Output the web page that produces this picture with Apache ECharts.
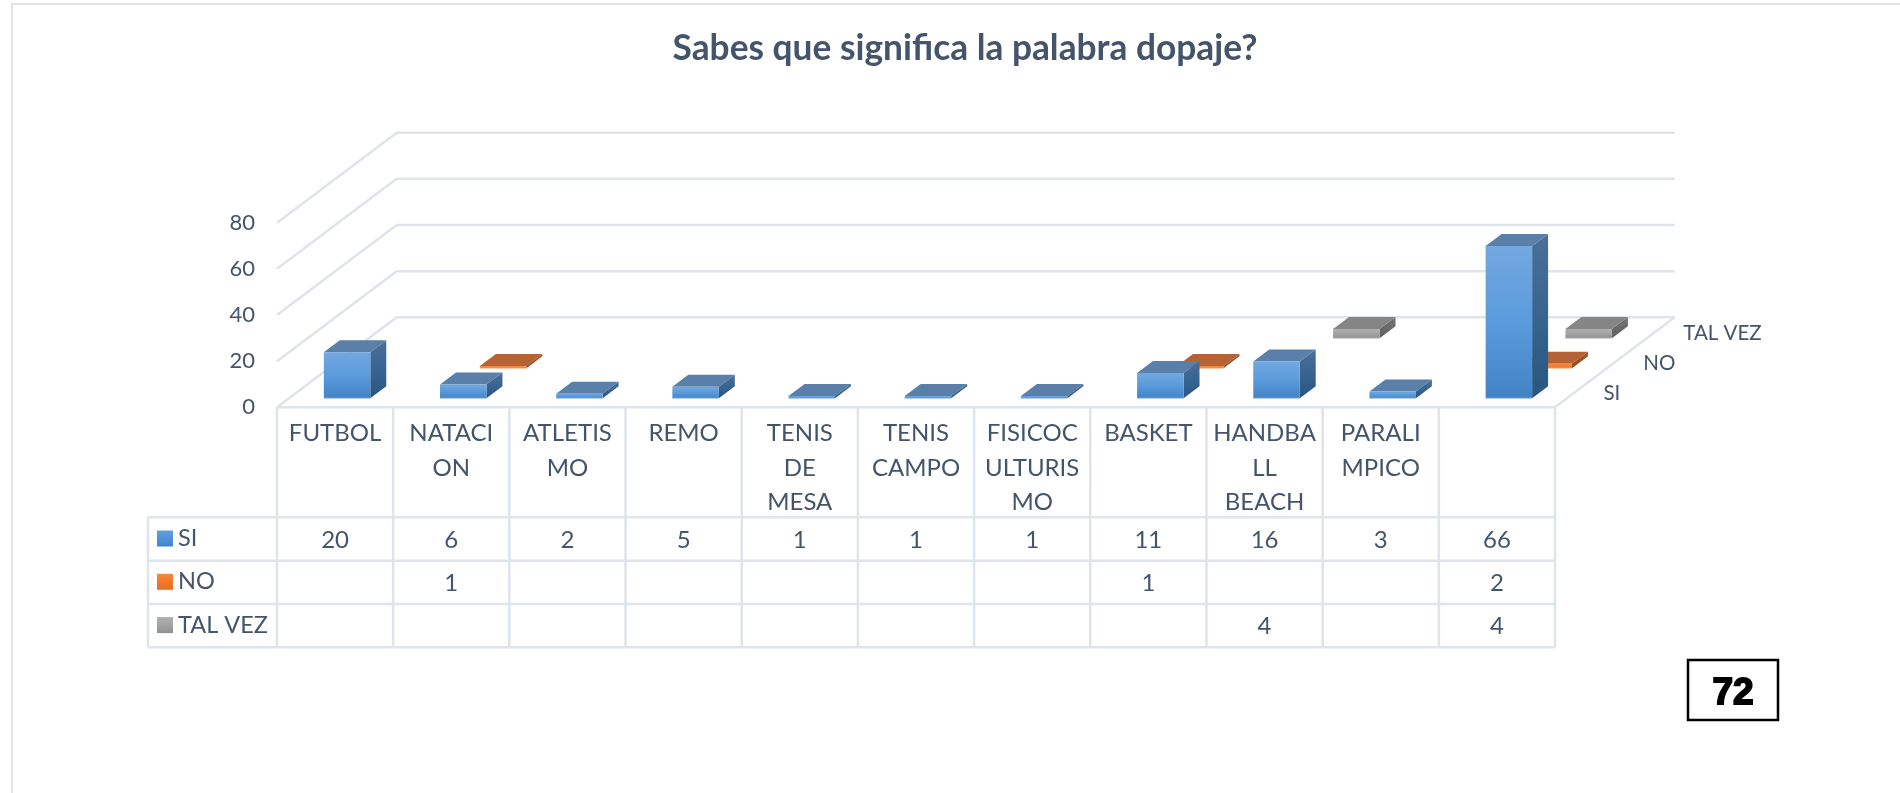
<!DOCTYPE html>
<html>
<head>
<meta charset="utf-8">
<style>html,body{margin:0;padding:0;background:#fff}#c{width:1900px;height:793px}</style>
<script src="https://cdn.jsdelivr.net/npm/echarts@6/dist/echarts.min.js"></script>
</head>
<body>
<div id="c"></div>
<script>
// ---- data ----
const categories = ['FUTBOL','NATACI\nON','ATLETIS\nMO','REMO','TENIS\nDE\nMESA','TENIS\nCAMPO','FISICOC\nULTURIS\nMO','BASKET','HANDBA\nLL\nBEACH','PARALI\nMPICO',''];
const si      = [20,6,2,5,1,1,1,11,16,3,66];
const no      = [null,1,null,null,null,null,null,1,null,null,2];
const talVez  = [null,null,null,null,null,null,null,null,4,null,4];
const seriesNames = ['SI','NO','TAL VEZ'];
const yTicks = [0,20,40,60,80];

// ---- projection and style ----
const TEXT = '#44546A', LINE = '#DFE3EA', FONT = 'Lato, "Noto Sans", sans-serif';
const SLOT_DX = 39.9, SLOT_DY = 30;       // screen shift per depth slot
const BAR_W = 0.4, BAR_DEPTH = 0.4;       // share of band / of slot
const ROW_Y = [110, 153.4, 196.7, 240];   // table rule offsets below the floor's front edge
const ROW_LEFT = 129;                     // header column width
const FS = 24;
const grad = (a, b, c) => ({type:'linear',x:0,y:0,x2:0,y2:1,colorStops:[{offset:0,color:a},{offset:.5,color:b||a},{offset:1,color:c||b||a}]});
const looks = [
  {front:grad('#73A8E0','#5A9BDC','#4283C6'), top:'#5A7FA9', side:grad('#4B6F98','#386491','#27567F'), edge:'#A9CBEB', key:grad('#5FA0DE','#4F93D6','#4085C8')},
  {front:grad('#F58A3F','#F57D2E','#F0742A'), top:'#B56335', side:grad('#A85A2C','#9A4F24','#8E4A1F'), edge:'#F9C9A6', key:grad('#F58A3F','#F0782A','#E56F22')},
  {front:grad('#AFAFAF','#A3A3A3','#8F8F8F'), top:'#858585', side:grad('#757575','#6A6A6A','#5E5E5E'), edge:'#CFCFCF', key:grad('#B0B0B0','#A3A3A3','#909090')}
];

function poly(points, fill, z2){ return {type:'polygon', z2:z2||0, shape:{points}, style:{fill}}; }
function line(points, w){ return {type:'polyline', shape:{points}, style:{stroke:LINE, lineWidth:w||2.5, fill:'none'}}; }
function barRows(arr, depth){
  return arr.map((v,i)=> v==null ? null : [i, v, depth]).filter(Boolean);
}

function renderBar(params, api){
  const depth = api.value(2), look = looks[depth];
  const band = api.size([1,0])[0];
  const base = api.coord([api.value(0),0]), head = api.coord([api.value(0),api.value(1)]);
  const w = band*BAR_W, d = BAR_DEPTH;
  const sx = (depth + (1-d)/2)*SLOT_DX, sy = (depth + (1-d)/2)*SLOT_DY;
  const x0 = base[0]-w/2+sx, x1 = x0+w, yB = base[1]-sy, yT = head[1]-sy;
  const ox = d*SLOT_DX, oy = d*SLOT_DY;
  return {type:'group', children:[
    poly([[x0,yT],[x1,yT],[x1+ox,yT-oy],[x0+ox,yT-oy]], look.top),
    poly([[x1,yT],[x1+ox,yT-oy],[x1+ox,yB-oy],[x1,yB]], look.side),
    {type:'rect', shape:{x:x0,y:yT,width:w,height:yB-yT}, style:{fill:look.front}},
    {type:'line', shape:{x1:x0,y1:yB,x2:x1,y2:yB}, style:{stroke:look.edge,lineWidth:1}}
  ]};
}

function renderWall(params, api){
  const band = api.size([1,0])[0];
  const p0 = api.coord([0, api.value(0)]);
  const left = p0[0]-band/2, y = p0[1];
  const right = api.coord([categories.length-1, 0])[0]+band/2;
  const DX = SLOT_DX*3, DY = SLOT_DY*3;
  const kids = [line([[left,y],[left+DX,y-DY],[right+DX,y-DY]])];
  if (api.value(0)===0) kids.push(line([[left,y],[right,y],[right+DX,y-DY]]));
  return {type:'group', children:kids};
}

function renderTableGrid(params, api){
  const i = api.value(0), band = api.size([1,0])[0];
  const p = api.coord([i,0]);
  const l = p[0]-band/2, r = p[0]+band/2, y0 = p[1];
  const kids = [line([[r,y0],[r,y0+ROW_Y[3]]])];
  if (i===0){
    kids.push(line([[l,y0],[l,y0+ROW_Y[3]]]));
    kids.push(line([[l-ROW_LEFT,y0+ROW_Y[0]],[l-ROW_LEFT,y0+ROW_Y[3]]]));
    ROW_Y.forEach(o=>kids.push(line([[l-ROW_LEFT,y0+o],[r,y0+o]])));
  } else {
    ROW_Y.forEach(o=>kids.push(line([[l,y0+o],[r,y0+o]])));
  }
  return {type:'group', children:kids};
}

function renderCell(params, api){
  const p = api.coord([api.value(0),0]), row = api.value(2);
  return {type:'text', style:{text:String(api.value(1)), x:p[0], y:p[1]+(ROW_Y[row]+ROW_Y[row+1])/2+1,
    fill:TEXT, font:FS+'px '+FONT, align:'center', verticalAlign:'middle'}};
}

function renderDepthLabel(params, api){
  const i = api.value(0), band = api.size([1,0])[0];
  const o = api.coord([categories.length-1,0]);
  const fx = o[0]+band/2, t = seriesNames[i];
  return {type:'text', style:{text:t, x:fx+(i+.5)*SLOT_DX+28.5, y:o[1]-(i+.5)*SLOT_DY+1,
    fill:TEXT, font:'20.5px '+FONT, align:'left', verticalAlign:'middle'}};
}

const cellRows = [si,no,talVez].flatMap((arr,r)=>barRows(arr,r).map(d=>[d[0],d[1],r]));

const chart = echarts.init(document.getElementById('c'), null, {renderer:'canvas'});
chart.setOption({
  animation:false,
  backgroundColor:'#fff',
  title:{text:'Sabes que significa la palabra dopaje?', left:960, top:26, textAlign:'center',
    textStyle:{color:TEXT, fontFamily:FONT, fontWeight:'bold', fontSize:35.3}},
  grid:{left:277, right:345, top:222.7, height:184.6},
  legend:{data:seriesNames.map((n,i)=>({name:n,itemStyle:{color:looks[i].key}})), selectedMode:false, orient:'vertical',
    left:157, top:525, padding:0, icon:'rect', itemWidth:16, itemHeight:16, itemGap:16.3,
    textStyle:{color:TEXT, fontFamily:FONT, fontSize:FS-0.5, lineHeight:27}},
  xAxis:{type:'category', data:categories, axisLine:{show:false}, axisTick:{show:false}, splitLine:{show:false},
    axisLabel:{interval:0, color:TEXT, fontFamily:FONT, fontSize:FS, lineHeight:34.5, margin:9, verticalAlign:'top'}},
  yAxis:{type:'value', min:0, max:80, interval:20, axisLine:{show:false}, axisTick:{show:false}, splitLine:{show:false},
    axisLabel:{color:TEXT, fontFamily:FONT, fontSize:22, margin:22}},
  graphic:[
    {type:'line', shape:{x1:12,y1:3,x2:12,y2:793}, style:{stroke:'#E0E5E9',lineWidth:2}},
    {type:'line', shape:{x1:11,y1:4,x2:1900,y2:4}, style:{stroke:'#E0E5E9',lineWidth:2}},
    {type:'rect', shape:{x:1688,y:660,width:90,height:60}, style:{fill:'#fff',stroke:'#000',lineWidth:2.5}},
    {type:'text', style:{text:'72', x:1733, y:694, fill:'#000', stroke:'#000', lineWidth:1.8,
      font:'bold 37px "Liberation Sans", sans-serif', align:'center', verticalAlign:'middle'}}
  ],
  series:[
    {type:'custom', name:'walls', silent:true, z:1, clip:false, renderItem:renderWall, encode:{y:0}, data:yTicks.map(v=>[v])},
    {type:'custom', name:'table', silent:true, z:1, clip:false, renderItem:renderTableGrid, encode:{x:0}, data:categories.map((c,i)=>[i])},
    {type:'custom', name:'cells', silent:true, z:2, clip:false, renderItem:renderCell, encode:{x:0}, data:cellRows},
    {type:'custom', name:'depth', silent:true, z:2, clip:false, renderItem:renderDepthLabel, data:seriesNames.map((n,i)=>[i])},
    {type:'custom', name:'TAL VEZ', z:3, clip:false, renderItem:renderBar, encode:{x:0,y:1}, itemStyle:{color:'#A5A5A5'}, data:barRows(talVez,2)},
    {type:'custom', name:'NO', z:4, clip:false, renderItem:renderBar, encode:{x:0,y:1}, itemStyle:{color:'#ED7D31'}, data:barRows(no,1)},
    {type:'custom', name:'SI', z:5, clip:false, renderItem:renderBar, encode:{x:0,y:1}, itemStyle:{color:'#5B9BD5'}, data:barRows(si,0)}
  ]
});
</script>
</body>
</html>
